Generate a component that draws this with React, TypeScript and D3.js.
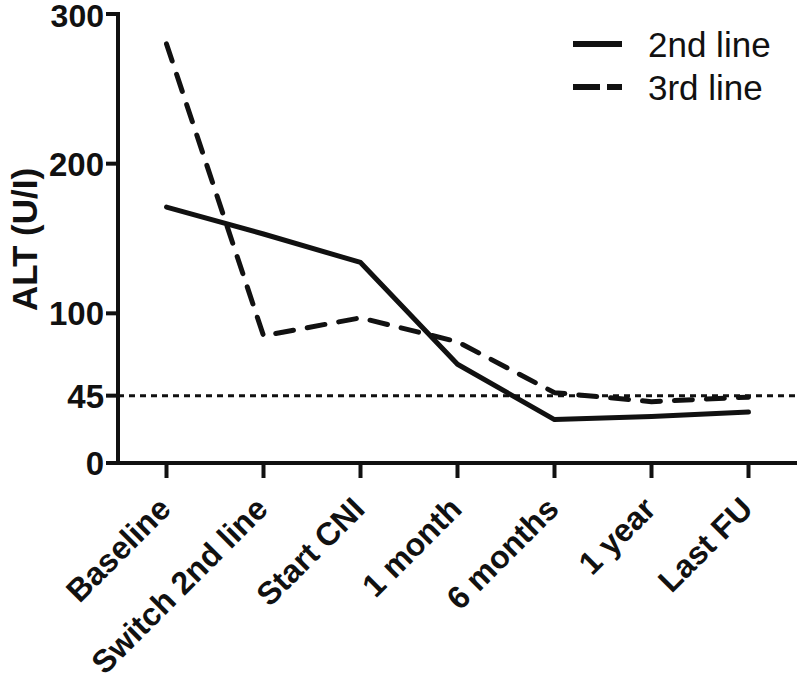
import * as d3 from 'd3'
import { FC } from 'react'

const WIDTH = 800
const HEIGHT = 683
const MARGIN = { top: 14, right: 3, bottom: 220, left: 118 }
const FONT = '"Liberation Sans", Arial, Helvetica, sans-serif'
const INK = '#111'

// Data
const timepoints = ['Baseline', 'Switch 2nd line', 'Start CNI', '1 month', '6 months', '1 year', 'Last FU']
const secondLine = [171, 153, 134, 66, 29, 31, 34]
const thirdLine = [280, 85, 97, 81, 47, 41, 44]
const yTicks = [0, 45, 100, 200, 300]
const ULN = 45

const series = [
  { name: '2nd line', values: secondLine, dash: null },
  { name: '3rd line', values: thirdLine, dash: '18 14' },
]

const App: FC = () => {
  const boundsBottom = HEIGHT - MARGIN.bottom

  const xScale = d3
    .scalePoint<string>()
    .domain(timepoints)
    .range([MARGIN.left, WIDTH - MARGIN.right])
    .padding(0.5)

  const yScale = d3.scaleLinear().domain([0, 300]).range([boundsBottom, MARGIN.top])

  const lineGenerator = d3
    .line<number>()
    .x((_, i) => xScale(timepoints[i]) as number)
    .y((d) => yScale(d))

  const y0 = yScale(0)

  return (
    <svg
      width={WIDTH}
      height={HEIGHT}
      style={{ position: 'absolute', left: 0, top: 0, background: '#fff' }}
      fontFamily={FONT}
    >
      {/* reference line at upper limit of normal */}
      <line
        x1={MARGIN.left}
        x2={WIDTH}
        y1={yScale(ULN)}
        y2={yScale(ULN)}
        stroke={INK}
        strokeWidth={3}
        strokeDasharray='6 5'
      />

      {/* series */}
      {series.map((s) => (
        <path
          key={s.name}
          d={lineGenerator(s.values) as string}
          fill='none'
          stroke={INK}
          strokeWidth={5}
          strokeLinejoin='round'
          strokeLinecap='round'
          strokeDasharray={s.dash ?? undefined}
        />
      ))}

      {/* y axis */}
      <line x1={MARGIN.left} x2={MARGIN.left} y1={yScale(300) - 2} y2={y0 + 2} stroke={INK} strokeWidth={4} />
      {yTicks.map((t) => (
        <g key={t}>
          <line x1={MARGIN.left - 12} x2={MARGIN.left} y1={yScale(t)} y2={yScale(t)} stroke={INK} strokeWidth={4} />
          <text
            x={MARGIN.left - 14}
            y={yScale(t)}
            dy={t === 300 ? '0.42em' : '0.36em'}
            textAnchor='end'
            fontSize={t === 300 ? 32 : 33}
            fontWeight='bold'
            fill={INK}
          >
            {t}
          </text>
        </g>
      ))}
      <text
        transform={`translate(37, ${(yScale(100) + yScale(200)) / 2 + 1}) rotate(-90)`}
        textAnchor='middle'
        fontSize={35}
        fontWeight='bold'
        fill={INK}
      >
        ALT (U/I)
      </text>

      {/* x axis */}
      <line x1={MARGIN.left - 2} x2={WIDTH - MARGIN.right} y1={y0} y2={y0} stroke={INK} strokeWidth={4} />
      {timepoints.map((t) => {
        const x = xScale(t) as number
        return (
          <g key={t}>
            <line x1={x} x2={x} y1={y0} y2={y0 + 15} stroke={INK} strokeWidth={4} />
            <text
              transform={`translate(${x + 6}, ${y0 + 48}) rotate(-45)`}
              textAnchor='end'
              fontSize={32}
              fontWeight='bold'
              fill={INK}
            >
              {t}
            </text>
          </g>
        )
      })}

      {/* legend */}
      {series.map((s, i) => (
        <g key={s.name} transform={`translate(573, ${44 + i * 43})`}>
          <line
            x1={0}
            x2={49}
            y1={0}
            y2={0}
            stroke={INK}
            strokeWidth={6}
            strokeDasharray={s.dash ? '27 7' : undefined}
          />
          <text x={75} y={0} dy='0.36em' fontSize={35} fill={INK}>
            {s.name}
          </text>
        </g>
      ))}
    </svg>
  )
}

export default App
